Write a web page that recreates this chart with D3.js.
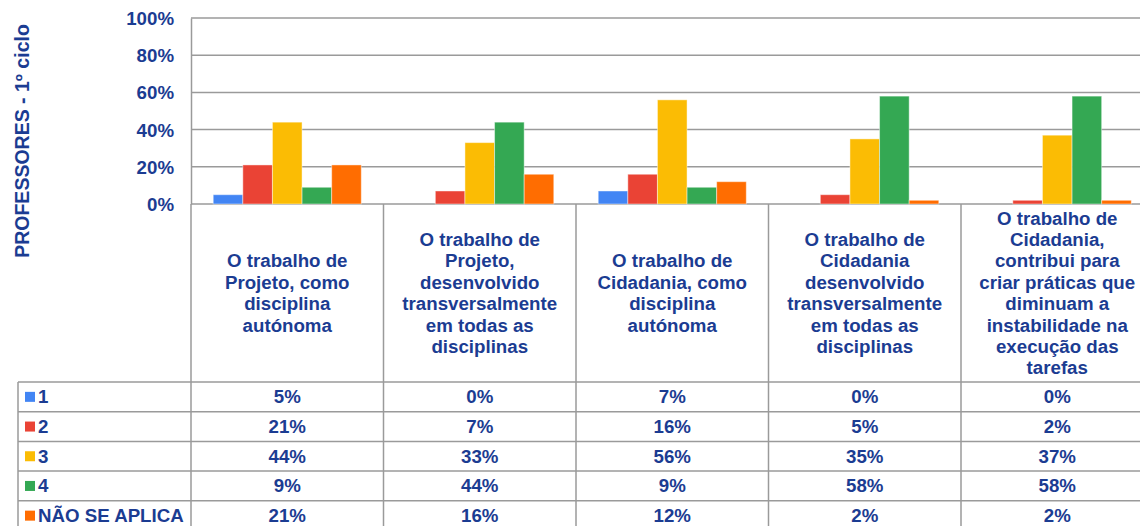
<!DOCTYPE html>
<html>
<head>
<meta charset="utf-8">
<script src="https://cdn.jsdelivr.net/npm/d3@7"></script>
<style>
  body { margin: 0; background: #fff; }
  svg text { font-family: "Liberation Sans", Arial, sans-serif; font-weight: bold; fill: #1b3c92; }
</style>
</head>
<body>
<div id="chart"></div>
<script>
// data
var categories = ["c1", "c2", "c3", "c4", "c5"];
var categoryLabels = [
    ["O trabalho de", "Projeto, como", "disciplina", "autónoma"],
    ["O trabalho de", "Projeto,", "desenvolvido", "transversalmente", "em todas as", "disciplinas"],
    ["O trabalho de", "Cidadania, como", "disciplina", "autónoma"],
    ["O trabalho de", "Cidadania", "desenvolvido", "transversalmente", "em todas as", "disciplinas"],
    ["O trabalho de", "Cidadania,", "contribui para", "criar práticas que", "diminuam a", "instabilidade na", "execução das", "tarefas"]
];
var seriesNames = ["1", "2", "3", "4", "NÃO SE APLICA"];
var seriesColors = ["#4285f4", "#ea4335", "#fbbc04", "#34a853", "#ff6d01"];
var values1 = [0.05, 0.00, 0.07, 0.00, 0.00];
var values2 = [0.21, 0.07, 0.16, 0.05, 0.02];
var values3 = [0.44, 0.33, 0.56, 0.35, 0.37];
var values4 = [0.09, 0.44, 0.09, 0.58, 0.58];
var valuesNA = [0.21, 0.16, 0.12, 0.02, 0.02];
var seriesValues = [values1, values2, values3, values4, valuesNA];
var yTicks = [0, 0.2, 0.4, 0.6, 0.8, 1];
var yTitle = "PROFESSORES - 1º ciclo";

var width = 1140, height = 526;
var plotLeft = 191, colWidth = 192.5;
var plotTop = 18, plotBottom = 204;
var labelBottom = 382, rowH = 29.7, tableLeft = 18;
var gridColor = "#9a9a9a";
var fs = 18.7;

var svg = d3.select("#chart").append("svg")
    .attr("width", width)
    .attr("height", height);

var x0 = d3.scaleBand()
    .domain(categories)
    .range([plotLeft, plotLeft + colWidth * categories.length]);

var x1 = d3.scaleBand()
    .domain(seriesNames)
    .range([0, x0.bandwidth()])
    .paddingOuter(0.75);

var y = d3.scaleLinear()
    .domain([0, 1])
    .range([plotBottom, plotTop]);

// gridlines
svg.append("g")
    .selectAll("line")
    .data(yTicks)
    .enter()
    .append("line")
    .attr("x1", plotLeft)
    .attr("x2", width)
    .attr("y1", function(d) { return y(d); })
    .attr("y2", function(d) { return y(d); })
    .attr("stroke", gridColor)
    .attr("stroke-width", 1.5);

// y axis
var yAxis = svg.append("g")
    .attr("transform", "translate(" + plotLeft + ",0)")
    .call(d3.axisLeft(y).tickValues(yTicks).tickFormat(d3.format(".0%")).tickSize(0).tickPadding(17));
yAxis.select(".domain").attr("stroke", gridColor).attr("stroke-width", 1.5);
yAxis.selectAll("text")
    .attr("font-size", fs)
    .attr("font-family", null)
    .attr("fill", null)
    .attr("dy", "0.35em");

svg.append("text")
    .attr("transform", "translate(29,141) rotate(-90)")
    .attr("text-anchor", "middle")
    .attr("font-size", 19.5)
    .text(yTitle);

// bars
var groups = svg.selectAll(".group")
    .data(categories)
    .enter()
    .append("g")
    .attr("class", "group")
    .attr("transform", function(d) { return "translate(" + x0(d) + ",0)"; });

groups.selectAll("rect")
    .data(function(d, i) {
        return seriesNames.map(function(s, j) {
            return { name: s, value: seriesValues[j][i], color: seriesColors[j] };
        });
    })
    .enter()
    .filter(function(d) { return d.value > 0; })
    .append("rect")
    .attr("x", function(d) { return x1(d.name); })
    .attr("width", x1.bandwidth())
    .attr("y", function(d) { return y(d.value); })
    .attr("height", function(d) { return y(0) - y(d.value); })
    .attr("fill", function(d) { return d.color; })
    .attr("stroke", "rgba(255,255,255,0.45)")
    .attr("stroke-width", 1);

// category label cells
var tableBottom = labelBottom + rowH * seriesNames.length;
svg.append("g")
    .selectAll("line")
    .data(categories)
    .enter()
    .append("line")
    .attr("x1", function(d) { return x0(d); })
    .attr("x2", function(d) { return x0(d); })
    .attr("y1", plotBottom)
    .attr("y2", tableBottom)
    .attr("stroke", gridColor)
    .attr("stroke-width", 1.5);

var labelMid = (plotBottom + labelBottom) / 2, lineH = 21.4;
groups.append("text")
    .attr("text-anchor", "middle")
    .attr("font-size", fs)
    .each(function(d, i) {
        var lines = categoryLabels[i];
        var t = d3.select(this);
        lines.forEach(function(l, k) {
            t.append("tspan")
                .attr("x", x0.bandwidth() / 2)
                .attr("y", labelMid + (k - (lines.length - 1) / 2) * lineH)
                .attr("dy", "0.35em")
                .text(l);
        });
    });

// data table
svg.append("line")
    .attr("x1", tableLeft).attr("x2", tableLeft)
    .attr("y1", labelBottom).attr("y2", tableBottom)
    .attr("stroke", gridColor).attr("stroke-width", 1.5);

var rows = svg.selectAll(".row")
    .data(seriesNames)
    .enter()
    .append("g")
    .attr("class", "row")
    .attr("transform", function(d, i) { return "translate(0," + (labelBottom + i * rowH) + ")"; });

rows.append("line")
    .attr("x1", tableLeft)
    .attr("x2", width)
    .attr("stroke", gridColor)
    .attr("stroke-width", 1.5);

rows.append("rect")
    .attr("x", 25)
    .attr("y", rowH / 2 - 5)
    .attr("width", 10)
    .attr("height", 10)
    .attr("fill", function(d, i) { return seriesColors[i]; });

rows.append("text")
    .attr("x", 38)
    .attr("y", rowH / 2)
    .attr("dy", "0.35em")
    .attr("font-size", fs)
    .text(function(d) { return d; });

rows.selectAll(".val")
    .data(function(d, i) { return seriesValues[i]; })
    .enter()
    .append("text")
    .attr("class", "val")
    .attr("x", function(d, i) { return x0(categories[i]) + x0.bandwidth() / 2; })
    .attr("y", rowH / 2)
    .attr("dy", "0.35em")
    .attr("text-anchor", "middle")
    .attr("font-size", fs)
    .text(function(d) { return d3.format(".0%")(d); });
</script>
</body>
</html>
